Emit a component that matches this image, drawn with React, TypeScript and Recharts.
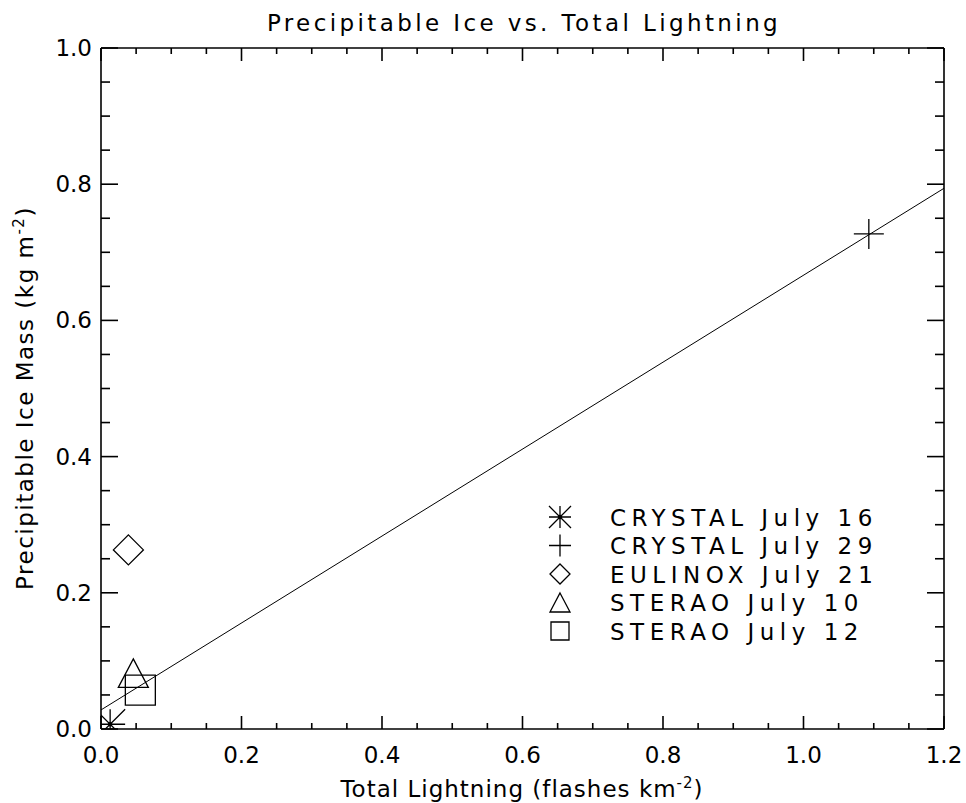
import React from 'react';
import { ScatterChart, Scatter, XAxis, YAxis } from 'recharts';

// ---- data ----
const seriesNames = ['CRYSTAL July 16', 'CRYSTAL July 29', 'EULINOX July 21', 'STERAO July 10', 'STERAO July 12'];
const seriesSymbols = ['asterisk', 'plus', 'diamond', 'triangle', 'square'];
const crystalJuly16 = [{ x: 0.013, y: 0.007 }];
const crystalJuly29 = [{ x: 1.093, y: 0.727 }];
const eulinoxJuly21 = [{ x: 0.039, y: 0.263 }];
const steraoJuly10 = [{ x: 0.046, y: 0.082 }];
const steraoJuly12 = [{ x: 0.056, y: 0.057 }];
const seriesData = [crystalJuly16, crystalJuly29, eulinoxJuly21, steraoJuly10, steraoJuly12];
const fitLine = [{ x: 0, y: 0.028 }, { x: 1.2, y: 0.794 }];

const xTicks = [0, 0.05, 0.1, 0.15, 0.2, 0.25, 0.3, 0.35, 0.4, 0.45, 0.5, 0.55, 0.6, 0.65, 0.7, 0.75, 0.8, 0.85, 0.9, 0.95, 1.0, 1.05, 1.1, 1.15, 1.2];
const yTicks = [0, 0.05, 0.1, 0.15, 0.2, 0.25, 0.3, 0.35, 0.4, 0.45, 0.5, 0.55, 0.6, 0.65, 0.7, 0.75, 0.8, 0.85, 0.9, 0.95, 1.0];
const majorStep = 0.2;

const titleText = 'Precipitable Ice vs. Total Lightning';
const xLabelText = 'Total Lightning (flashes km';
const yLabelText = 'Precipitable Ice Mass (kg m';
const unitExponent = '-2';

// ---- styles ----
const FONT = '"DejaVu Sans", sans-serif';
const W = 966;
const H = 803;
const M = { top: 47, right: 21, bottom: 73, left: 100 };
const AX = 1.6;

const isMajor = (v: number) => Math.abs(v / majorStep - Math.round(v / majorStep)) < 1e-6;

const Sym = ({ type, cx, cy, r }: { type: string; cx: number; cy: number; r: number }) => {
  const common = { fill: 'none', stroke: '#000', strokeWidth: 1.3 };
  if (type === 'asterisk') {
    return (
      <g>
        <path
          d={`M${cx - r},${cy}H${cx + r}M${cx},${cy - r}V${cy + r}M${cx - r},${cy - r}L${cx + r},${cy + r}M${cx - r},${cy + r}L${cx + r},${cy - r}`}
          {...common}
        />
        <circle cx={cx} cy={cy} r={2.2} fill="#000" />
      </g>
    );
  }
  if (type === 'plus') {
    return <path d={`M${cx - r},${cy}H${cx + r}M${cx},${cy - r}V${cy + r}`} {...common} />;
  }
  if (type === 'diamond') {
    return <path d={`M${cx},${cy - r}L${cx + r},${cy}L${cx},${cy + r}L${cx - r},${cy}Z`} {...common} />;
  }
  if (type === 'triangle') {
    return <path d={`M${cx},${cy - r * 0.95}L${cx + r},${cy + r * 0.95}L${cx - r},${cy + r * 0.95}Z`} {...common} />;
  }
  return <path d={`M${cx - r},${cy - r}H${cx + r}V${cy + r}H${cx - r}Z`} {...common} />;
};

const tickText = { fontFamily: FONT, fontSize: 23, fill: '#000' };

const BottomTick = (p: any) => {
  const v = p.payload.value;
  const major = isMajor(v);
  return (
    <g>
      <line x1={p.x} y1={p.y} x2={p.x} y2={p.y - (major ? 13 : 6)} stroke="#000" strokeWidth={AX} />
      {major && (
        <text x={p.x} y={p.y + 34} textAnchor="middle" {...tickText}>
          {v.toFixed(1)}
        </text>
      )}
    </g>
  );
};
const TopTick = (p: any) => {
  const major = isMajor(p.payload.value);
  return <line x1={p.x} y1={p.y} x2={p.x} y2={p.y + (major ? 13 : 6)} stroke="#000" strokeWidth={AX} />;
};
const LeftTick = (p: any) => {
  const v = p.payload.value;
  const major = isMajor(v);
  return (
    <g>
      <line x1={p.x} y1={p.y} x2={p.x + (major ? 17 : 9)} y2={p.y} stroke="#000" strokeWidth={AX} />
      {major && (
        <text x={p.x - 9} y={p.y + 8} textAnchor="end" {...tickText}>
          {v.toFixed(1)}
        </text>
      )}
    </g>
  );
};
const RightTick = (p: any) => {
  const major = isMajor(p.payload.value);
  return <line x1={p.x} y1={p.y} x2={p.x - (major ? 17 : 9)} y2={p.y} stroke="#000" strokeWidth={AX} />;
};

export default function App() {
  const legendX = 560;
  const legendTextX = 610;
  const legendY0 = 517;
  const legendDy = 28.5;
  return (
    <div style={{ position: 'absolute', left: 0, top: 0, width: W, height: H, background: '#fff' }}>
      <ScatterChart width={W} height={H} margin={M}>
        <XAxis
          xAxisId="x"
          dataKey="x"
          type="number"
          orientation="bottom"
          domain={[0, 1.2]}
          allowDataOverflow
          ticks={xTicks}
          interval={0}
          height={1}
          tickSize={0}
          tickMargin={0}
          tickLine={false}
          axisLine={{ stroke: '#000', strokeWidth: AX }}
          tick={BottomTick}
        />
        <XAxis
          xAxisId="xt"
          dataKey="x"
          type="number"
          orientation="top"
          domain={[0, 1.2]}
          allowDataOverflow
          ticks={xTicks}
          interval={0}
          height={1}
          tickSize={0}
          tickMargin={0}
          tickLine={false}
          axisLine={{ stroke: '#000', strokeWidth: AX }}
          tick={TopTick}
        />
        <YAxis
          yAxisId="y"
          dataKey="y"
          type="number"
          orientation="left"
          domain={[0, 1]}
          allowDataOverflow
          ticks={yTicks}
          interval={0}
          width={1}
          tickSize={0}
          tickMargin={0}
          tickLine={false}
          axisLine={{ stroke: '#000', strokeWidth: AX }}
          tick={LeftTick}
        />
        <YAxis
          yAxisId="yr"
          dataKey="y"
          type="number"
          orientation="right"
          domain={[0, 1]}
          allowDataOverflow
          ticks={yTicks}
          interval={0}
          width={1}
          tickSize={0}
          tickMargin={0}
          tickLine={false}
          axisLine={{ stroke: '#000', strokeWidth: AX }}
          tick={RightTick}
        />
        <Scatter
          xAxisId="xt"
          yAxisId="yr"
          data={fitLine}
          line={{ stroke: '#000', strokeWidth: 1 }}
          shape={() => <g />}
          isAnimationActive={false}
        />
        {seriesData.map((d, i) => (
          <Scatter
            key={seriesNames[i]}
            name={seriesNames[i]}
            xAxisId="x"
            yAxisId="y"
            data={d}
            isAnimationActive={false}
            shape={(p: any) => <Sym type={seriesSymbols[i]} cx={p.cx} cy={p.cy} r={15} />}
          />
        ))}
      </ScatterChart>
      <svg width={W} height={H} style={{ position: 'absolute', left: 0, top: 0, pointerEvents: 'none' }}>
        <text x={524} y={31} textAnchor="middle" fontFamily={FONT} fontSize={23} letterSpacing={3.4} fill="#000">
          {titleText}
        </text>
        <text x={522} y={797} textAnchor="middle" fontFamily={FONT} fontSize={23} letterSpacing={1} fill="#000">
          {xLabelText}
          <tspan dy={-9} fontSize={15}>{unitExponent}</tspan>
          <tspan dy={9}>)</tspan>
        </text>
        <text
          x={33}
          y={398}
          transform="rotate(-90 33 398)"
          textAnchor="middle"
          fontFamily={FONT}
          fontSize={23}
          letterSpacing={1.5}
          fill="#000"
        >
          {yLabelText}
          <tspan dy={-9} fontSize={15}>{unitExponent}</tspan>
          <tspan dy={9}>)</tspan>
        </text>
        {seriesNames.map((n, i) => {
          const cy = legendY0 + i * legendDy;
          return (
            <g key={n}>
              <Sym type={seriesSymbols[i]} cx={legendX} cy={cy} r={seriesSymbols[i] === 'square' ? 9 : seriesSymbols[i] === 'asterisk' || seriesSymbols[i] === 'plus' ? 11 : 10} />
              <text x={legendTextX} y={cy + 8.5} fontFamily={FONT} fontSize={23} letterSpacing={5.5} fill="#000">
                {n}
              </text>
            </g>
          );
        })}
      </svg>
    </div>
  );
}
